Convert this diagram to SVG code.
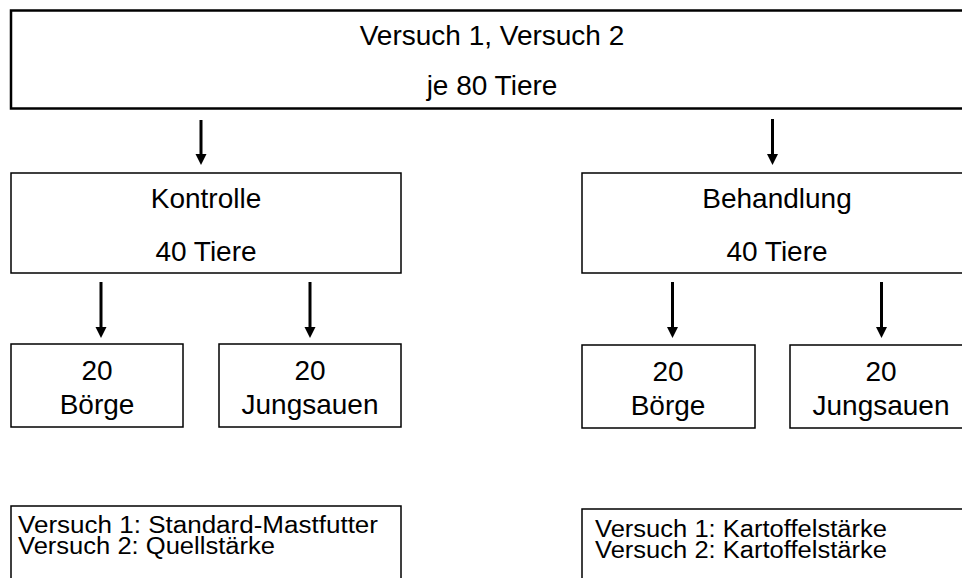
<svg xmlns="http://www.w3.org/2000/svg" width="962" height="578" viewBox="0 0 962 578">
<style>
.box{fill:#fff;stroke:#000;stroke-width:1.5}
.top{fill:#fff;stroke:#000;stroke-width:2.5}
.big{font-family:"Liberation Sans",Arial,sans-serif;font-size:28px;fill:#000;text-anchor:middle}
.sm{font-family:"Liberation Sans",Arial,sans-serif;font-size:23px;fill:#000}
.shaft{stroke:#000;stroke-width:3}
.head{fill:#000}
</style>
<rect width="962" height="578" fill="#fff"/>
<g id="connectors">
<line class="shaft" x1="201" y1="120" x2="201" y2="156"/>
<path class="head" d="M195.5,154 L206.5,154 L201,165 Z"/>
<line class="shaft" x1="772.5" y1="119" x2="772.5" y2="156"/>
<path class="head" d="M767,154 L778,154 L772.5,165 Z"/>
<line class="shaft" x1="101" y1="282" x2="101" y2="329"/>
<path class="head" d="M95.5,327 L106.5,327 L101,338 Z"/>
<line class="shaft" x1="310" y1="282" x2="310" y2="329"/>
<path class="head" d="M304.5,327 L315.5,327 L310,338 Z"/>
<line class="shaft" x1="672.5" y1="282" x2="672.5" y2="329"/>
<path class="head" d="M667,327 L678,327 L672.5,338 Z"/>
<line class="shaft" x1="881.5" y1="282" x2="881.5" y2="329"/>
<path class="head" d="M876,327 L887,327 L881.5,338 Z"/>
</g>
<g id="root">
<rect class="top" x="11" y="10.5" width="970" height="98"/>
<text class="big" x="492" y="45">Versuch 1, Versuch 2</text>
<text class="big" x="492" y="95">je 80 Tiere</text>
</g>
<g id="kontrolle">
<rect class="box" x="11" y="173" width="390" height="100"/>
<text class="big" x="206" y="208">Kontrolle</text>
<text class="big" x="206" y="261">40 Tiere</text>
</g>
<g id="behandlung">
<rect class="box" x="582" y="173" width="400" height="100"/>
<text class="big" x="777" y="208">Behandlung</text>
<text class="big" x="777" y="261">40 Tiere</text>
</g>
<g id="k-boerge">
<rect class="box" x="11" y="344" width="172" height="83"/>
<text class="big" x="97" y="380">20</text>
<text class="big" x="97" y="414">Börge</text>
</g>
<g id="k-jungsauen">
<rect class="box" x="219" y="344" width="182" height="83"/>
<text class="big" x="310" y="380">20</text>
<text class="big" x="310" y="414">Jungsauen</text>
</g>
<g id="b-boerge">
<rect class="box" x="582" y="345" width="173" height="83"/>
<text class="big" x="668" y="381">20</text>
<text class="big" x="668" y="415">Börge</text>
</g>
<g id="b-jungsauen">
<rect class="box" x="790" y="345" width="200" height="83"/>
<text class="big" x="881" y="381">20</text>
<text class="big" x="881" y="415">Jungsauen</text>
</g>
<g id="k-futter">
<rect class="box" x="11" y="506" width="390" height="100"/>
<text class="sm" x="18" y="533" textLength="360" lengthAdjust="spacingAndGlyphs">Versuch 1: Standard-Mastfutter</text>
<text class="sm" x="18" y="554" textLength="257" lengthAdjust="spacingAndGlyphs">Versuch 2: Quellstärke</text>
</g>
<g id="b-futter">
<rect class="box" x="582" y="509" width="400" height="100"/>
<text class="sm" x="595" y="537" textLength="292" lengthAdjust="spacingAndGlyphs">Versuch 1: Kartoffelstärke</text>
<text class="sm" x="595" y="558" textLength="292" lengthAdjust="spacingAndGlyphs">Versuch 2: Kartoffelstärke</text>
</g>
</svg>
